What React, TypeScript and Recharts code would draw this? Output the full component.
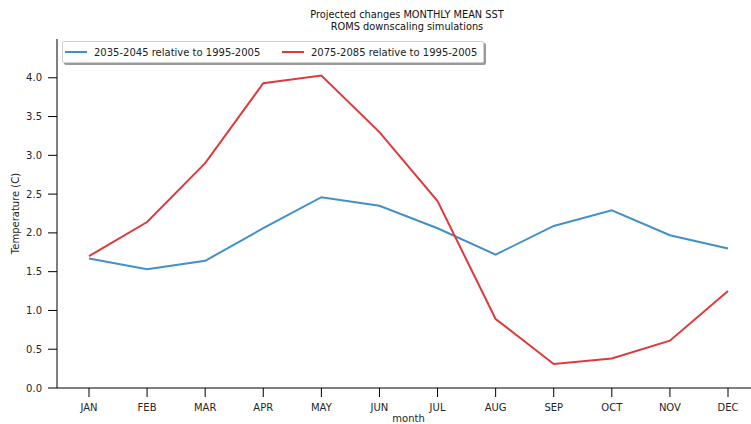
import React from 'react';
import { LineChart, Line, XAxis, YAxis } from 'recharts';

const months = ['JAN', 'FEB', 'MAR', 'APR', 'MAY', 'JUN', 'JUL', 'AUG', 'SEP', 'OCT', 'NOV', 'DEC'];
const near = [1.67, 1.53, 1.64, 2.06, 2.46, 2.35, 2.06, 1.72, 2.09, 2.29, 1.97, 1.8];
const far = [1.7, 2.14, 2.9, 3.93, 4.03, 3.3, 2.41, 0.89, 0.31, 0.38, 0.61, 1.25];
const yTicks = [0, 0.5, 1, 1.5, 2, 2.5, 3, 3.5, 4];
const seriesNames = ['2035-2045 relative to 1995-2005', '2075-2085 relative to 1995-2005'];
const colors = ['#4190c8', '#de3a3c'];

const data = months.map((m, i) => ({ month: m, near: near[i], far: far[i] }));

const FONT = '"DejaVu Sans", sans-serif';

const LegendBox = () => (
  <div
    style={{
      position: 'absolute',
      left: 62,
      top: 41,
      width: 420,
      height: 20,
      border: '1px solid #cfcfcf',
      borderRadius: 2,
      background: '#fff',
      boxShadow: '2px 2px 0 #9a9a9a',
      fontFamily: FONT,
      fontSize: 10,
      color: '#222',
    }}
  >
    {seriesNames.map((name, i) => (
      <div key={i} style={{ position: 'absolute', left: i === 0 ? 2 : 219, top: 0, height: 20, display: 'flex', alignItems: 'center' }}>
        <div style={{ width: 22, height: 2, background: colors[i], marginRight: 7 }} />
        <span style={{ whiteSpace: 'nowrap' }}>{name}</span>
      </div>
    ))}
  </div>
);

export default function App() {
  return (
    <div style={{ position: 'absolute', left: 0, top: 0, width: 751, height: 424, overflow: 'hidden', background: '#fff' }}>
      <div
        style={{
          position: 'absolute',
          left: 0,
          top: 9,
          width: 814,
          textAlign: 'center',
          fontFamily: FONT,
          fontSize: 9.8,
          lineHeight: '12px',
          color: '#111',
        }}
      >
        <div>Projected changes MONTHLY MEAN SST</div>
        <div>ROMS downscaling simulations</div>
      </div>
      <LineChart width={800} height={430} data={data} margin={{ top: 39, right: 40, bottom: 0, left: 0 }}>
        <XAxis
          dataKey="month"
          padding={{ left: 32, right: 32 }}
          height={42}
          tickSize={9}
          tickMargin={7}
          tick={{ fontFamily: FONT, fontSize: 10, fill: '#262626' }}
          axisLine={{ stroke: '#000', strokeWidth: 1 }}
          tickLine={{ stroke: '#000', strokeWidth: 1 }}
          interval={0}
          label={{ value: 'month', position: 'insideBottom', offset: 8, style: { fontFamily: FONT, fontSize: 10, fill: '#262626' } }}
        />
        <XAxis
          xAxisId="top"
          dataKey="month"
          orientation="top"
          height={0}
          tick={false}
          tickLine={false}
          axisLine={{ stroke: '#000', strokeWidth: 1 }}
          padding={{ left: 32, right: 32 }}
        />
        <YAxis
          width={57}
          domain={[0, 4.5]}
          ticks={yTicks}
          tickFormatter={(v: number) => v.toFixed(1)}
          tickSize={9}
          tickMargin={6}
          tick={{ fontFamily: FONT, fontSize: 10, fill: '#262626' }}
          axisLine={{ stroke: '#000', strokeWidth: 1 }}
          tickLine={{ stroke: '#000', strokeWidth: 1 }}
          label={{
            content: (p: any) => {
              const vb = p.viewBox || { x: 0, y: 39, width: 57, height: 349 };
              const x = vb.x + 15;
              const y = vb.y + vb.height / 2;
              return (
                <text
                  x={x}
                  y={y}
                  transform={`rotate(-90, ${x}, ${y})`}
                  textAnchor="middle"
                  dominantBaseline="central"
                  style={{ fontFamily: FONT, fontSize: 10, fill: '#262626' }}
                >
                  Temperature (C)
                </text>
              );
            },
          }}
        />
        <Line
          type="linear"
          dataKey="near"
          name={seriesNames[0]}
          stroke={colors[0]}
          strokeWidth={2}
          dot={false}
          activeDot={false}
          isAnimationActive={false}
        />
        <Line
          type="linear"
          dataKey="far"
          name={seriesNames[1]}
          stroke={colors[1]}
          strokeWidth={2}
          dot={false}
          activeDot={false}
          isAnimationActive={false}
        />
      </LineChart>
      <LegendBox />
    </div>
  );
}
